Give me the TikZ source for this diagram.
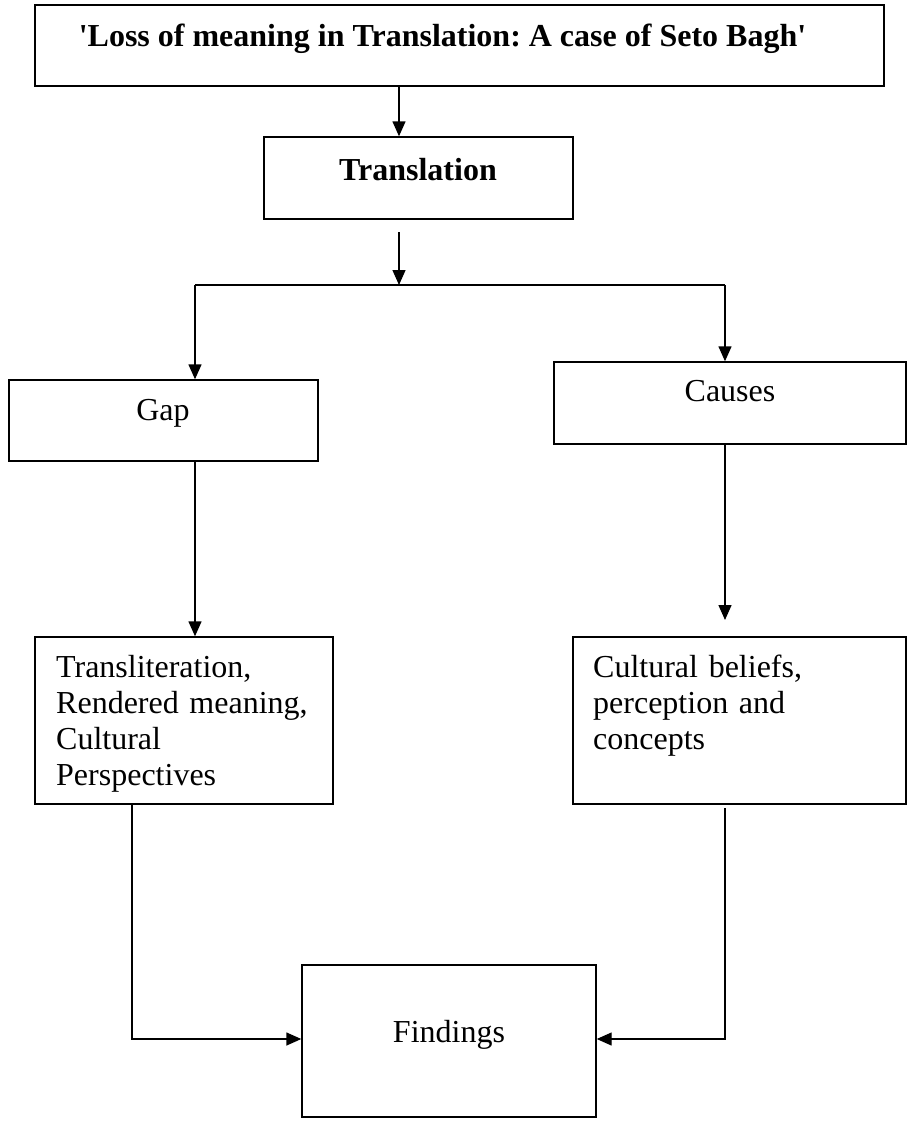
\documentclass[tikz,border=0pt]{standalone}
\usepackage{fontspec}
\setmainfont{Liberation Serif}[Ligatures=TeXOff]
\frenchspacing
\usetikzlibrary{arrows.meta}
\begin{document}
\begin{tikzpicture}[x=1pt,y=-1pt,
  box/.style={draw, line width=1.4pt, inner sep=0pt},
  lbl/.style={inner sep=0pt, font=\fontsize{32}{36}\selectfont\frenchspacing},
  blbl/.style={inner sep=0pt, font=\fontsize{32}{36}\selectfont\bfseries\frenchspacing},
  arr/.style={line width=1.4pt, -{Triangle[length=15pt,width=13pt]}},
  ln/.style={line width=1.4pt}]
\useasboundingbox (0,0) rectangle (907,1124);
% boxes
\node[box, minimum width=849pt, minimum height=81pt] (top) at (459.5,45.5) {};
\node[box, minimum width=309pt, minimum height=82pt] (trans) at (418.5,178) {};
\node[box, minimum width=309pt, minimum height=81pt] (gap) at (163.5,420.5) {};
\node[box, minimum width=352pt, minimum height=82pt] (causes) at (730,403) {};
\node[box, minimum width=298pt, minimum height=167pt] (lbox) at (184,720.5) {};
\node[box, minimum width=333pt, minimum height=167pt] (rbox) at (739.5,720.5) {};
\node[box, minimum width=294pt, minimum height=152pt] (find) at (449,1041) {};
% texts
\node[blbl, anchor=base] (toptxt) at (442.5,47) {'Loss of meaning in Translation: A case of Seto Bagh'};
\node[blbl, anchor=base] (transtxt) at (418,180) {Translation};
\node[lbl, anchor=base] (gaptxt) at (163,420) {Gap};
\node[lbl, anchor=base] (causestxt) at (730,401) {Causes};
\node[lbl, anchor=base west, text width=280pt, align=left] (ltxt) at (56,677) {Transliteration,\\Rendered meaning,\\Cultural\\Perspectives};
\node[lbl, anchor=base west, text width=300pt, align=left] (rtxt) at (593,677) {Cultural beliefs,\\perception and\\concepts};
\node[lbl, anchor=base] (findtxt) at (449,1042) {Findings};
% helper coordinates
\coordinate (c1) at (399,0);
\coordinate (s2) at (399,232);
\coordinate (j) at (399,285);
\coordinate (jl) at (195,285);
\coordinate (jr) at (725,285);
\coordinate (re) at (725,620);
\coordinate (ls) at (132,0);
\coordinate (rs) at (725,808);
\coordinate (lc) at (132,1039);
\coordinate (rc) at (725,1039);
% connectors
\draw[arr] (c1 |- top.south) -- (c1 |- trans.north);
\draw[arr] (s2) -- (j);
\draw[ln] (jl) -- (jr);
\draw[arr] (jl) -- (jl |- gap.north);
\draw[arr] (jr) -- (jr |- causes.north);
\draw[arr] (jl |- gap.south) -- (jl |- lbox.north);
\draw[arr] (jr |- causes.south) -- (re);
\draw[arr] (ls |- lbox.south) -- (lc) -- (lc -| find.west);
\draw[arr] (rs) -- (rc) -- (rc -| find.east);
\end{tikzpicture}
\end{document}
